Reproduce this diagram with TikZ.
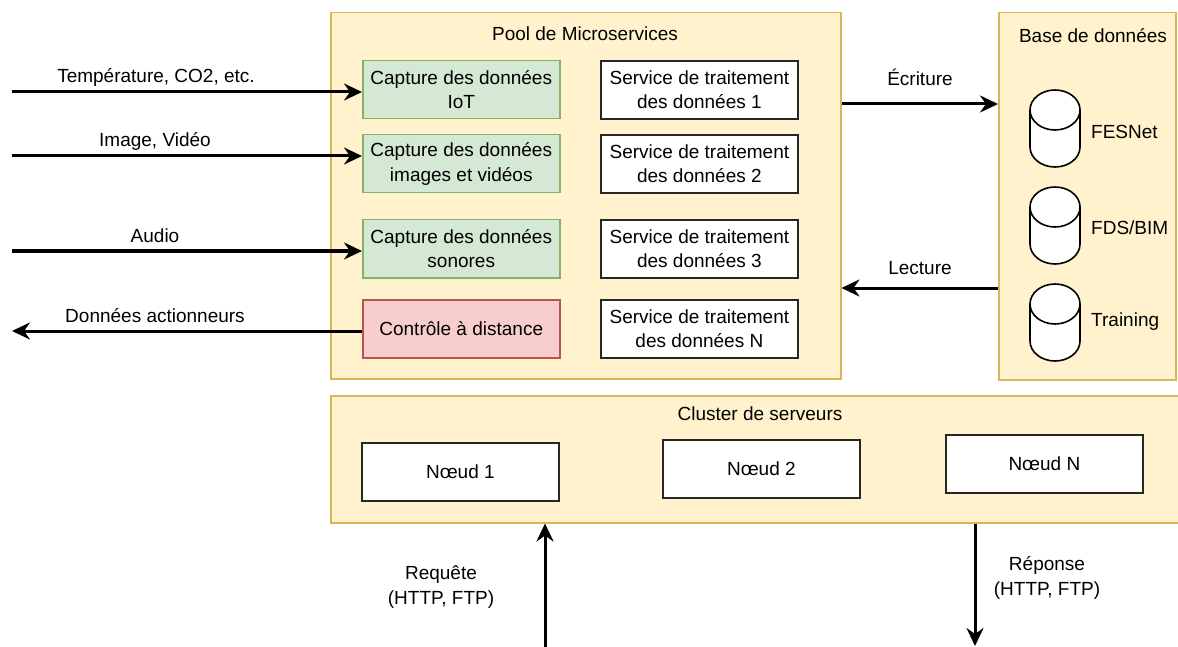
\documentclass[tikz,border=0pt]{standalone}
\usepackage{fontspec}
\setmainfont{Liberation Sans}
\usetikzlibrary{arrows.meta}
\definecolor{contfill}{HTML}{FFF2CC}
\definecolor{contdraw}{HTML}{D6B656}
\definecolor{gfill}{HTML}{D5E8D4}
\definecolor{gdraw}{HTML}{82B366}
\definecolor{rfill}{HTML}{F8CECC}
\definecolor{rdraw}{HTML}{B85450}
\newcommand\mycyl[3]{%
  \draw[line width=1.6pt, fill=white] (#1-25,#2+20) -- (#1-25,#3-20)
    arc[start angle=180,end angle=360,x radius=25pt,y radius=20pt]
    -- (#1+25,#2+20)
    arc[start angle=0,end angle=180,x radius=25pt,y radius=20pt] -- cycle;
  \draw[line width=1.6pt] (#1-25,#2+20)
    arc[start angle=180,end angle=360,x radius=25pt,y radius=20pt];}
\begin{document}
\begin{tikzpicture}[x=1pt,y=-1pt,
  font=\fontsize{19}{24.5}\selectfont,
  container/.style={draw=contdraw, fill=contfill, line width=1.5pt, anchor=north west, inner sep=0pt},
  box/.style={draw=black!85, fill=white, line width=1.8pt, align=center, anchor=north west,
    inner sep=0pt, minimum width=197pt, minimum height=58pt},
  gbox/.style={box, draw=gdraw, fill=gfill, line width=1.5pt},
  rbox/.style={box, draw=rdraw, fill=rfill, line width=1.5pt},
  arr/.style={line width=3pt, -{Stealth[length=18pt,width=17pt,inset=6pt]}},
  lbl/.style={inner sep=0pt, align=center}]
\useasboundingbox (0,0) rectangle (1178,647);
\clip (0,0) rectangle (1178,647);

% containers
\node[container, minimum width=510pt, minimum height=366pt] (pool) at (330,12) {};
\node[container, minimum width=177pt, minimum height=367pt] (base) at (998,12) {};
\node[container, minimum width=860pt, minimum height=127pt] (cluster) at (330,395) {};
\node[lbl] (tpool) at (585,34) {Pool de Microservices};
\node[lbl] (tbase) at (1093,36) {Base de données};
\node[lbl] (tclus) at (760,414) {Cluster de serveurs};

% capture boxes
\node[gbox] (cap1) at (362,60) {Capture des données\\IoT};
\node[gbox] (cap2) at (362,134) {Capture des données\\images et vidéos};
\node[gbox] (cap3) at (362,219) {Capture des données\\sonores};
\node[rbox] (ctrl) at (362,299) {Contrôle à distance};

% service boxes
\node[box] (s1) at (600,60) {Service de traitement\\des données 1};
\node[box] (s2) at (600,134) {Service de traitement\\des données 2};
\node[box] (s3) at (600,219) {Service de traitement\\des données 3};
\node[box] (sN) at (600,299) {Service de traitement\\des données N};

% cluster nodes
\node[box] (n1) at (361,442) {Nœud 1};
\node[box] (n2) at (662,439) {Nœud 2};
\node[box] (nN) at (945,434) {Nœud N};

% databases
\mycyl{1055}{90}{167}
\mycyl{1055}{187}{264}
\mycyl{1055}{284}{361}
\node[lbl, anchor=west] (db1) at (1091,132) {FESNet};
\node[lbl, anchor=west] (db2) at (1091,228) {FDS/BIM};
\node[lbl, anchor=west] (db3) at (1091,322) {Training};

% input arrows
\coordinate (in1) at (12,92);
\coordinate (in2) at (12,156);
\coordinate (in3) at (12,251);
\coordinate (out1) at (12,331);
\draw[arr] (in1) -- (in1 -| cap1.west);
\draw[arr] (in2) -- (in2 -| cap2.west);
\draw[arr] (in3) -- (in3 -| cap3.west);
\draw[arr] (out1 -| ctrl.west) -- (out1);
\node[lbl] (l1) at (156,77) {Température, CO2, etc.};
\node[lbl] (l2) at (155,141) {Image, Vidéo};
\node[lbl] (l3) at (155,236) {Audio};
\node[lbl] (l4) at (155,316) {Données actionneurs};

% DB arrows
\coordinate (wy) at (0,104);
\coordinate (ry) at (0,288);
\draw[arr] (pool.east |- wy) -- (base.west |- wy);
\draw[arr] (base.west |- ry) -- (pool.east |- ry);
\node[lbl] (lw) at (920,77) {Écriture};
\node[lbl] (lr) at (920,268) {Lecture};

% request / response
\coordinate (req) at (545,650);
\coordinate (rep) at (975,646);
\draw[arr] (req) -- (req |- cluster.south);
\draw[arr] (rep |- cluster.south) -- (rep);
\node[lbl] (lreq) at (441,587) {Requête\\(HTTP, FTP)};
\node[lbl] (lrep) at (1047,578) {Réponse\\(HTTP, FTP)};
\end{tikzpicture}
\end{document}
